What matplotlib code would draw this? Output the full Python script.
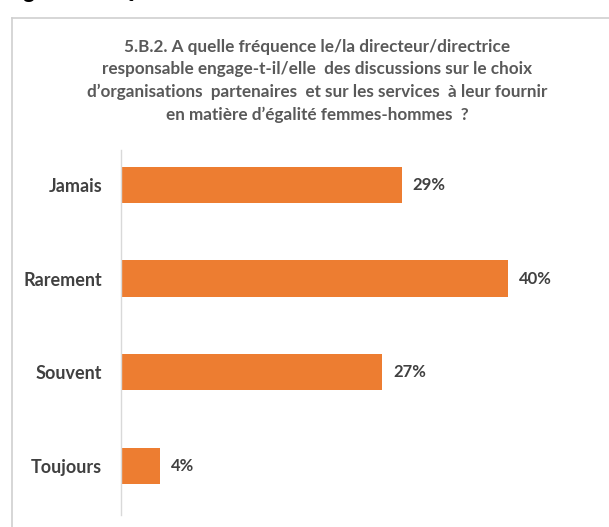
import matplotlib
matplotlib.use("Agg")
import matplotlib.pyplot as plt
from matplotlib.lines import Line2D

categories = ["Jamais", "Rarement", "Souvent", "Toujours"]
values = [29, 40, 27, 4]
value_labels = ["29%", "40%", "27%", "4%"]

title = ("5.B.2. A quelle fréquence le/la directeur/directrice\n"
         "responsable engage-t-il/elle  des discussions sur le choix\n"
         "d’organisations  partenaires  et sur les services  à leur fournir\n"
         "en matière d’égalité femmes-hommes  ?")
caption = "Figure 58 : Question 5.B.2"

plt.rcParams["font.family"] = ["Lato", "DejaVu Sans"]

W, H = 609, 527
fig = plt.figure(figsize=(W / 100, H / 100), dpi=100)
fig.patch.set_facecolor("white")

# panel frame (top and left edges)
fig.add_artist(Line2D([12 / W, 1], [1 - 18 / H, 1 - 18 / H], color="#cfcfcf", lw=1.2))
fig.add_artist(Line2D([12 / W, 12 / W], [0, 1 - 18 / H], color="#cfcfcf", lw=1.2))

# caption running off the top edge: only its lowest strokes stay on the page
fig.text(5 / W, 1 - 1.6 / H, caption, fontsize=16, fontweight="bold", color="black",
         ha="left", va="bottom")

fig.text(317 / W, 1 - 81 / H, title, fontsize=12.3, fontweight="bold", color="#595959",
         ha="center", va="center", linespacing=1.5)

ax = fig.add_axes([121 / W, 1 - 515 / H, (566 - 121) / W, (515 - 150) / H])
y = list(range(len(categories)))
bars = ax.barh(y, values, height=0.385, color="#ED7D31", edgecolor="none")
ax.set_xlim(0, 46)
ax.set_ylim(3.52, -0.37)
ax.set_yticks(y)
ax.set_yticklabels(categories, fontsize=13, fontweight="bold", color="#404040")
ax.tick_params(axis="y", length=0, pad=13.5)
ax.set_xticks([])
for s in ["top", "right", "bottom"]:
    ax.spines[s].set_visible(False)
ax.spines["left"].set_color("#d9d9d9")
ax.spines["left"].set_linewidth(1)

for v, lab, yy in zip(values, value_labels, y):
    ax.text(v + 1.15, yy, lab, fontsize=12, fontweight="bold", color="#404040",
            ha="left", va="center")

fig.savefig("out.png", dpi=100, facecolor="white")
